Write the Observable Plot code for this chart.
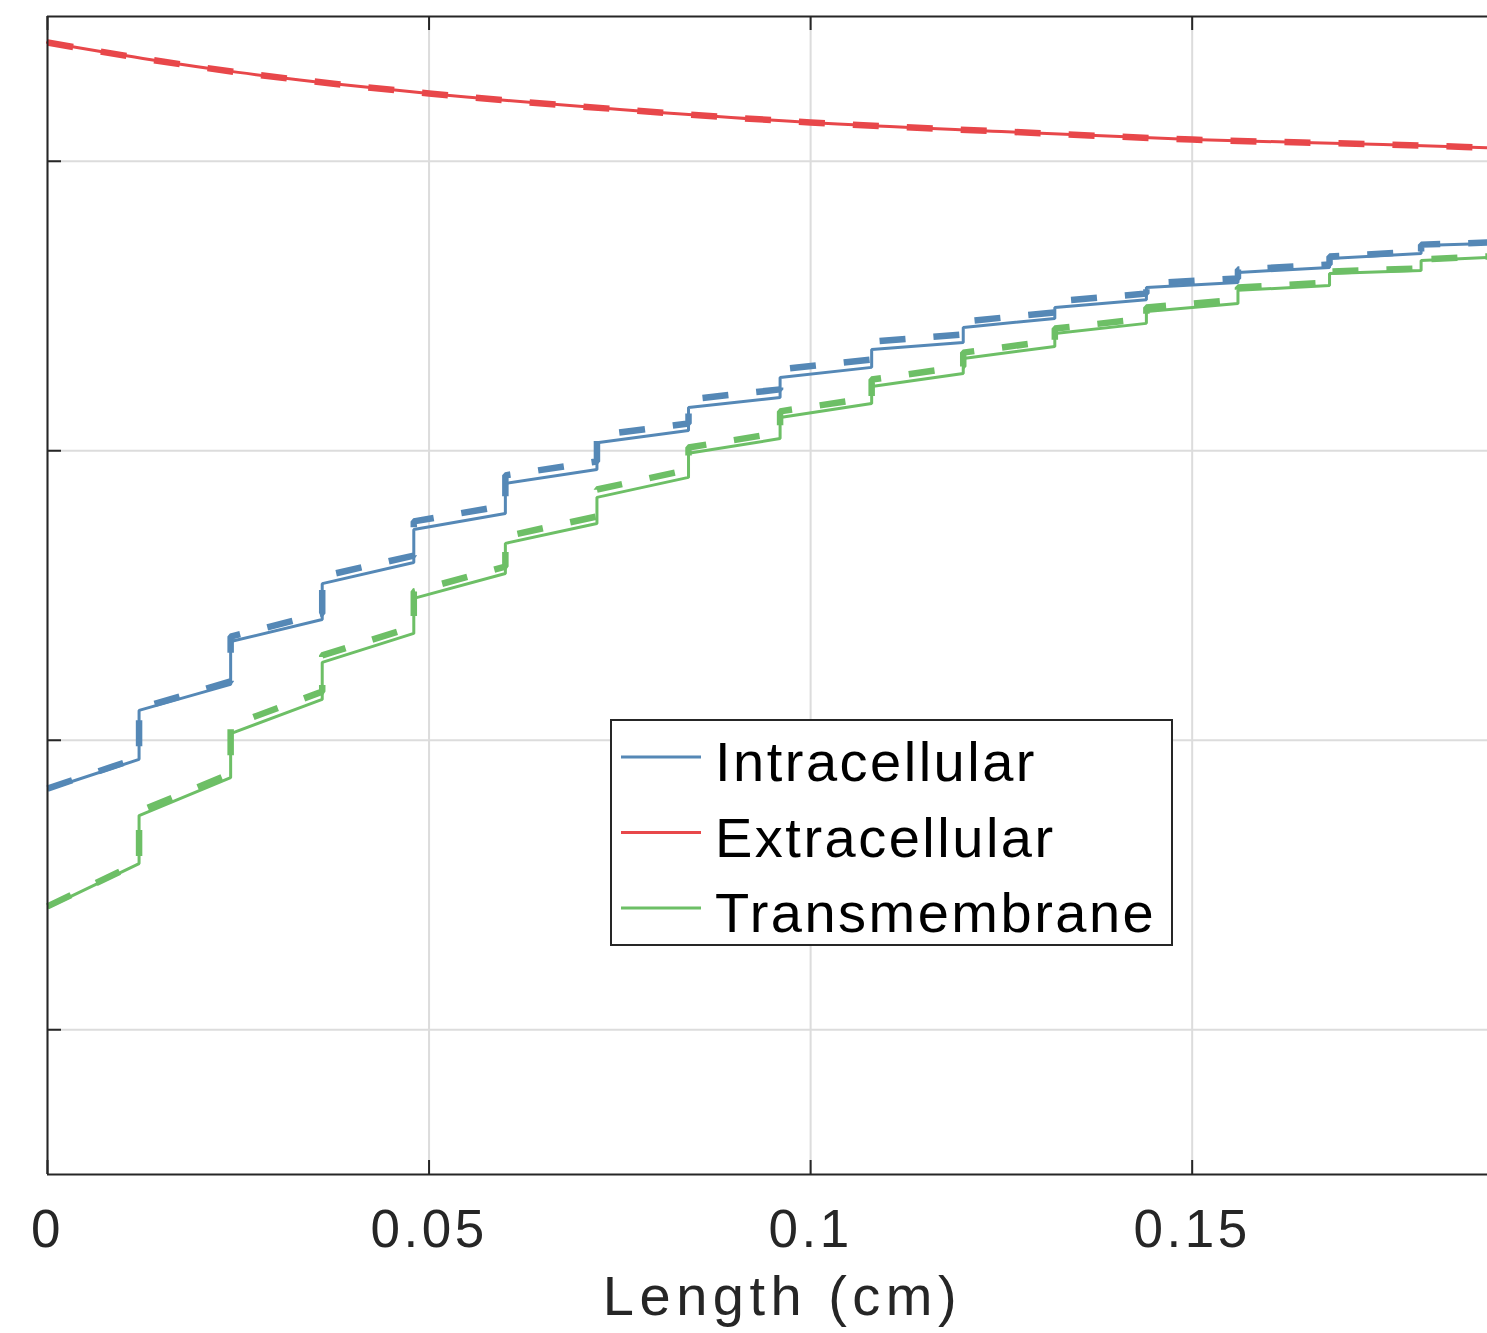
<!DOCTYPE html>
<html><head><meta charset="utf-8">
<script src="https://cdn.jsdelivr.net/npm/d3@7"></script>
<script src="https://cdn.jsdelivr.net/npm/@observablehq/plot@0.6"></script>
<style>
html,body{margin:0;padding:0;background:#fff;overflow:hidden}
#wrap{position:relative;width:1487px;height:1333px}
.chart g[aria-label="x-axis tick label"] text{letter-spacing:3.5px}
#legend{position:absolute;left:610px;top:719px}
#legend text{letter-spacing:2.5px}
</style></head><body><div id="wrap"><div id="legend"></div></div>
<script>
// ---- data ----
const stepX = [0, 0.012, 0.024, 0.036, 0.048, 0.060, 0.072, 0.084, 0.096, 0.108, 0.120, 0.132, 0.144, 0.156, 0.168, 0.180, 0.1887];

const intraSolidStart = [-2.170, -1.897, -1.659, -1.459, -1.272, -1.113, -0.972, -0.851, -0.747, -0.650, -0.574, -0.505, -0.436, -0.384, -0.336, -0.291];
const intraSolidEnd   = [-2.066, -1.807, -1.583, -1.386, -1.217, -1.065, -0.930, -0.816, -0.712, -0.626, -0.543, -0.478, -0.419, -0.367, -0.319, -0.284];
const intraDashStart  = [-2.167, -1.890, -1.642, -1.434, -1.244, -1.085, -0.947, -0.823, -0.719, -0.623, -0.554, -0.484, -0.422, -0.374, -0.329, -0.288];
const intraDashEnd    = [-2.060, -1.797, -1.562, -1.362, -1.189, -1.037, -0.906, -0.788, -0.685, -0.598, -0.522, -0.457, -0.405, -0.357, -0.312, -0.281];

const transSolidStart = [-2.578, -2.260, -1.977, -1.731, -1.510, -1.320, -1.161, -1.009, -0.885, -0.778, -0.681, -0.595, -0.519, -0.446, -0.388, -0.343];
const transSolidEnd   = [-2.426, -2.129, -1.859, -1.631, -1.424, -1.251, -1.092, -0.958, -0.837, -0.733, -0.640, -0.560, -0.491, -0.429, -0.377, -0.332];
const transDashStart  = [-2.574, -2.246, -1.949, -1.707, -1.486, -1.296, -1.134, -0.989, -0.864, -0.754, -0.661, -0.578, -0.505, -0.436, -0.381, -0.339];
const transDashEnd    = [-2.422, -2.115, -1.832, -1.607, -1.400, -1.227, -1.065, -0.937, -0.816, -0.709, -0.619, -0.543, -0.478, -0.419, -0.370, -0.329];

const extraX      = [0, 0.0125, 0.025, 0.0375, 0.05, 0.075, 0.1, 0.125, 0.15, 0.175, 0.1887];
const extraValues = [0.410, 0.355, 0.307, 0.268, 0.234, 0.179, 0.134, 0.103, 0.075, 0.058, 0.047];

const xTicks = [0, 0.05, 0.1, 0.15];
const xTickLabels = ["0", "0.05", "0.1", "0.15"];
const yTicks = [0, -1, -2, -3];
const seriesNames = ["Intracellular", "Extracellular", "Transmembrane"];
const seriesColors = ["#5588b6", "#e8474a", "#6dbf66"];
const xLabel = "Length (cm)";

// ---- build tables ----
function stepSeries(starts, ends) {
  const pts = [];
  for (let k = 0; k < starts.length; k++) {
    pts.push({x: stepX[k], y: starts[k]});
    pts.push({x: stepX[k + 1], y: ends[k]});
  }
  return pts;
}
const intraSolid = stepSeries(intraSolidStart, intraSolidEnd);
const intraDash = stepSeries(intraDashStart, intraDashEnd);
const transSolid = stepSeries(transSolidStart, transSolidEnd);
const transDash = stepSeries(transDashStart, transDashEnd);
const extra = extraX.map((x, i) => ({x, y: extraValues[i]}));

const W = 1487, H = 1333, mT = 16, mB = 159, mL = 47, mR = 0;
const frameH = H - mT - mB, frameW = W - mL - mR;
const axisColor = "#262626";
const solidW = 3, dashW = 6.5, dash = "26,28";

const chart = Plot.plot({
  width: W, height: H,
  marginTop: mT, marginBottom: mB, marginLeft: mL, marginRight: mR,
  className: "chart",
  style: {fontFamily: "'Liberation Sans', Arial, sans-serif", background: "white"},
  x: {domain: [0, stepX[stepX.length - 1]], axis: null},
  y: {domain: [-3.5, 0.5], axis: null},
  marks: [
    Plot.gridX(xTicks, {stroke: "#dcdcdc", strokeOpacity: 1, strokeWidth: 2}),
    Plot.gridY(yTicks, {stroke: "#dcdcdc", strokeOpacity: 1, strokeWidth: 2}),
    // solid lines
    Plot.line(intraSolid, {x: "x", y: "y", stroke: seriesColors[0], strokeWidth: solidW, strokeLinejoin: "miter", strokeLinecap: "butt"}),
    Plot.line(transSolid, {x: "x", y: "y", stroke: seriesColors[2], strokeWidth: solidW, strokeLinejoin: "miter", strokeLinecap: "butt"}),
    Plot.line(extra, {x: "x", y: "y", stroke: seriesColors[1], strokeWidth: solidW, curve: "monotone-x"}),
    // dashed lines
    Plot.line(intraDash, {x: "x", y: "y", stroke: seriesColors[0], strokeWidth: dashW, strokeDasharray: dash, strokeLinecap: "butt", strokeLinejoin: "miter"}),
    Plot.line(transDash, {x: "x", y: "y", stroke: seriesColors[2], strokeWidth: dashW, strokeDasharray: dash, strokeLinecap: "butt", strokeLinejoin: "miter"}),
    Plot.line(extra, {x: "x", y: "y", stroke: seriesColors[1], strokeWidth: dashW, strokeDasharray: dash, strokeLinecap: "butt", curve: "monotone-x"}),
    // box
    Plot.ruleX([0], {stroke: axisColor, strokeWidth: 2}),
    Plot.ruleY([-3.5], {stroke: axisColor, strokeWidth: 2}),
    Plot.ruleY([0.5], {stroke: axisColor, strokeWidth: 2}),
    // inward ticks
    Plot.tickX(xTicks, {x: d => d, insetTop: frameH - 14, stroke: axisColor, strokeWidth: 2}),
    Plot.tickX(xTicks, {x: d => d, insetBottom: frameH - 14, stroke: axisColor, strokeWidth: 2}),
    Plot.tickY(yTicks, {y: d => d, insetRight: frameW - 14, stroke: axisColor, strokeWidth: 2}),
    // tick labels
    Plot.axisX(xTicks, {anchor: "bottom", tickSize: 0, tickPadding: 35, fontSize: 53, fill: axisColor,
      tickFormat: d => xTickLabels[xTicks.indexOf(d)], label: null}),
    // axis title
    Plot.text([xLabel], {frameAnchor: "bottom", text: d => d, dy: 123, dx: 15, fontSize: 56, fill: axisColor,
      lineAnchor: "middle", textAnchor: "middle"})
  ]
});
d3.select(chart).selectAll("text").filter(function() { return this.textContent === xLabel; })
  .style("letter-spacing", "5.5px");
document.getElementById("wrap").prepend(chart);

// ---- legend ----
const lg = d3.select("#legend").append("svg").attr("width", 563).attr("height", 227);
lg.append("rect").attr("x", 1).attr("y", 1).attr("width", 561).attr("height", 225)
  .attr("fill", "white").attr("stroke", axisColor).attr("stroke-width", 2);
seriesNames.forEach((name, i) => {
  const cy = 38 + i * 75.5;
  lg.append("line").attr("x1", 11).attr("x2", 91).attr("y1", cy).attr("y2", cy)
    .attr("stroke", seriesColors[i]).attr("stroke-width", 3);
  lg.append("text").attr("x", 105).attr("y", cy + 24).text(name)
    .attr("font-family", "'Liberation Sans', Arial, sans-serif").attr("font-size", 56).attr("fill", "#000");
});
</script></body></html>
